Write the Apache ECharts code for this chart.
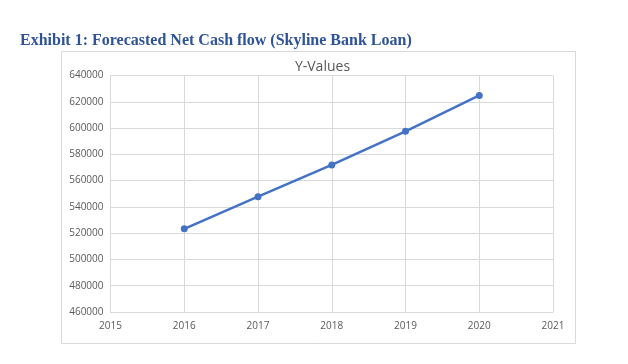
<!DOCTYPE html>
<html>
<head>
<meta charset="utf-8">
<script src="https://cdn.jsdelivr.net/npm/echarts@6/dist/echarts.min.js"></script>
<style>
html,body{margin:0;padding:0;background:#fff;}
#chart{width:628px;height:364px;}
</style>
</head>
<body>
<div id="chart"></div>
<script>
const years = [2016, 2017, 2018, 2019, 2020];
const yValues = [523300, 547800, 571900, 597500, 624800];
const seriesName = 'Y-Values';
const mainTitle = 'Exhibit 1: Forecasted Net Cash flow (Skyline Bank Loan)';

const chart = echarts.init(document.getElementById('chart'), null, {renderer: 'canvas'});
const option = {
  backgroundColor: '#ffffff',
  animation: false,
  title: [
    {
      text: mainTitle, left: 15, top: 28,
      textStyle: {fontFamily: 'Liberation Serif', fontWeight: 'bold', fontSize: 16, color: '#2F5496'}
    },
    {
      text: seriesName, left: 317.5, textAlign: 'center', top: 55,
      textStyle: {fontFamily: 'Open Sans', fontWeight: 'normal', fontSize: 14, color: '#595959'}
    }
  ],
  graphic: [{
    type: 'rect', left: 61, top: 51, silent: true, z: -1,
    shape: {width: 514, height: 292},
    style: {fill: '#ffffff', stroke: '#d9d9d9', lineWidth: 1}
  }],
  grid: {left: 110.5, right: 75, top: 75.5, bottom: 52, containLabel: false},
  xAxis: {
    type: 'value', min: 2015, max: 2021, interval: 1,
    axisLine: {show: true, lineStyle: {color: '#d9d9d9'}},
    axisTick: {show: false},
    splitLine: {show: true, lineStyle: {color: '#d9d9d9', width: 1}},
    axisLabel: {color: '#595959', fontFamily: 'Open Sans', fontSize: 10, margin: 9, formatter: v => String(v)}
  },
  yAxis: {
    type: 'value', min: 460000, max: 640000, interval: 20000,
    axisLine: {show: true, lineStyle: {color: '#d9d9d9'}},
    axisTick: {show: false},
    splitLine: {show: true, lineStyle: {color: '#d9d9d9', width: 1}},
    axisLabel: {color: '#595959', fontFamily: 'Open Sans', fontSize: 10, margin: 7, formatter: v => String(v)}
  },
  series: [{
    name: seriesName, type: 'line',
    data: years.map((y, i) => [y, yValues[i]]),
    symbol: 'circle', symbolSize: 7,
    lineStyle: {color: '#4472C4', width: 2.5},
    itemStyle: {color: '#4472C4'}
  }]
};
chart.setOption(option);
</script>
</body>
</html>
